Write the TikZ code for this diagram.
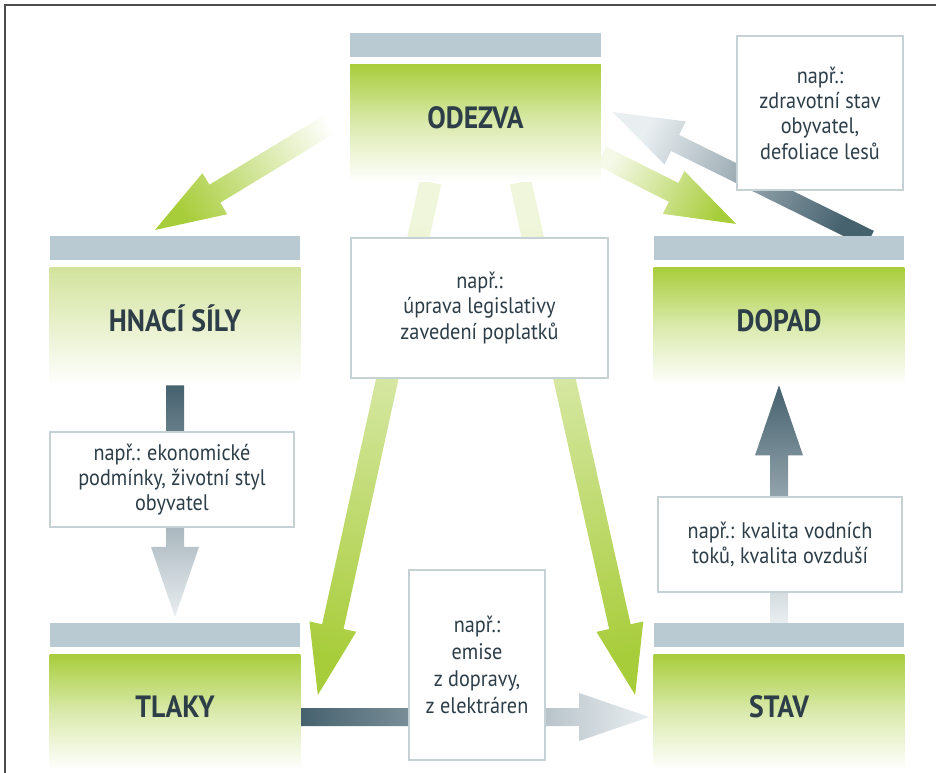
\documentclass[tikz,border=0pt]{standalone}
\usepackage{fontspec}
\setmainfont{PT Sans}[FakeStretch=0.9]
\usetikzlibrary{positioning,calc,backgrounds}
\definecolor{DpsGreen}{HTML}{A8CD3B}
\definecolor{DpsPale}{HTML}{D2E39C}
\definecolor{DpsBar}{HTML}{B9CAD2}
\definecolor{DpsDark}{HTML}{46626F}
\definecolor{DpsLight}{HTML}{E9EEF1}
\definecolor{DpsInk}{HTML}{2D3E48}
\definecolor{DpsLine}{HTML}{C6D1D6}
\tikzset{
  dpsbox/.style={minimum width=5.02cm, minimum height=2.36cm, inner sep=0pt, top color=DpsGreen, bottom color=white, middle color=DpsGreen!42, text height=0.45cm, text depth=0.24cm, font=\fontsize{17.5}{20}\selectfont\bfseries, text=DpsInk},
  palebox/.style={dpsbox, top color=DpsPale, bottom color=white, middle color=DpsPale!50},
  dpsbar/.style={fill=DpsBar, minimum width=5.02cm, minimum height=0.48cm, inner sep=0pt},
  notebox/.style={draw=DpsLine, line width=0.9pt, fill=white, align=center, inner sep=0pt, font=\fontsize{12.8}{14.4}\selectfont, text=DpsInk},
  dpsframe/.style={draw=black!70, line width=0.7pt}
}
\newcommand\fatarrow[5][0.18cm]{%
  \path (#2); \pgfgetlastxy{\fax}{\fay}%
  \path (#3); \pgfgetlastxy{\fbx}{\fby}%
  \pgfmathsetmacro\faang{atan2(\fby-\fay,\fbx-\fax)}%
  \pgfmathsetmacro\falen{veclen(\fbx-\fax,\fby-\fay)}%
  \begin{scope}[shift={(#2)},rotate=\faang]
    \shade[left color=#4,right color=#5,shading angle=90+\faang]
      (0pt,-#1) -- (\falen pt-1.4cm,-#1) -- (\falen pt-1.4cm,-0.48cm) -- (\falen pt,0pt)
      -- (\falen pt-1.4cm,0.48cm) -- (\falen pt-1.4cm,#1) -- (0pt,#1) -- cycle;
  \end{scope}}
\begin{document}
\begin{tikzpicture}[x=0.02cm, y=-0.02cm]
\useasboundingbox (0,0) rectangle (936,773);
\draw[dpsframe] (5,773) -- (5,5) -- (936,5);
\node[dpsbox] (odezva) at (475.5,123) {ODEZVA};
\node[palebox] (hnaci) at (175,326) {HNACÍ SÍLY};
\node[dpsbox] (dopad) at (779,326) {DOPAD};
\node[dpsbox, minimum height=2.32cm] (tlaky) at (175,712) {TLAKY};
\node[dpsbox, minimum height=2.32cm] (stav) at (779,712) {STAV};
\foreach \nm in {odezva,hnaci,dopad,tlaky,stav}
  \node[dpsbar, above=0.12cm of \nm] (\nm-bar) {};
\node[notebox, minimum width=3.32cm, minimum height=3.08cm] (zdravi) at (820,113) {např.:\\zdravotní stav\\obyvatel,\\defoliace lesů};
\node[notebox, minimum width=5.14cm, minimum height=2.8cm] (legis) at (479.5,308) {např.:\\úprava legislativy\\zavedení poplatků};
\node[notebox, minimum width=4.88cm, minimum height=1.9cm] (ekon) at (172,479.5) {např.: ekonomické\\podmínky, životní styl\\obyvatel};
\node[notebox, minimum width=2.72cm, minimum height=3.8cm, font=\fontsize{12.8}{15.4}\selectfont] (emise) at (477,665) {např.:\\emise\\z dopravy,\\z elektráren};
\node[notebox, minimum width=4.88cm, minimum height=1.9cm] (kvalita) at (780,544.5) {např.: kvalita vodních\\toků, kvalita ovzduší};
\coordinate (a1) at ($(odezva.west)+(0,-11)$);
\coordinate (b1) at ($(hnaci-bar.north)+(-20,-6)$);
\coordinate (a2) at ($(odezva.east)+(0,33)$);
\coordinate (b2) at ($(dopad-bar.north west)+(83,-12)$);
\coordinate (a3) at ($(dopad-bar.north east)+(-35,3)$);
\coordinate (b3) at ($(odezva.east)+(11,-11)$);
\coordinate (a4) at ($(odezva.south)+(-45,0)$);
\coordinate (b4) at ($(tlaky.east)+(17,-17)$);
\coordinate (a5) at ($(odezva.south)+(45,0)$);
\coordinate (b5) at ($(stav.west)+(-18,-17)$);
\coordinate (b6) at ($(tlaky-bar.north)+(0,-6)$);
\coordinate (a8) at ($(tlaky.east)+(0,5)$);
\coordinate (b8) at ($(stav.west)+(-4,5)$);
\begin{scope}[on background layer]
\fatarrow[0.21cm]{a1}{b1}{white}{DpsGreen}
\fatarrow[0.21cm]{a2}{b2}{DpsGreen!12}{DpsGreen}
\fatarrow{a3}{b3}{DpsDark}{DpsLight}
\fatarrow[0.22cm]{a4}{b4}{DpsGreen!18}{DpsGreen}
\fatarrow[0.22cm]{a5}{b5}{DpsGreen!18}{DpsGreen}
\fatarrow{hnaci.south}{b6}{DpsDark}{DpsLight}
\fatarrow{stav-bar.north}{dopad.south}{DpsLight}{DpsDark}
\fatarrow{a8}{b8}{DpsDark}{DpsLight}
\end{scope}
\end{tikzpicture}
\end{document}
